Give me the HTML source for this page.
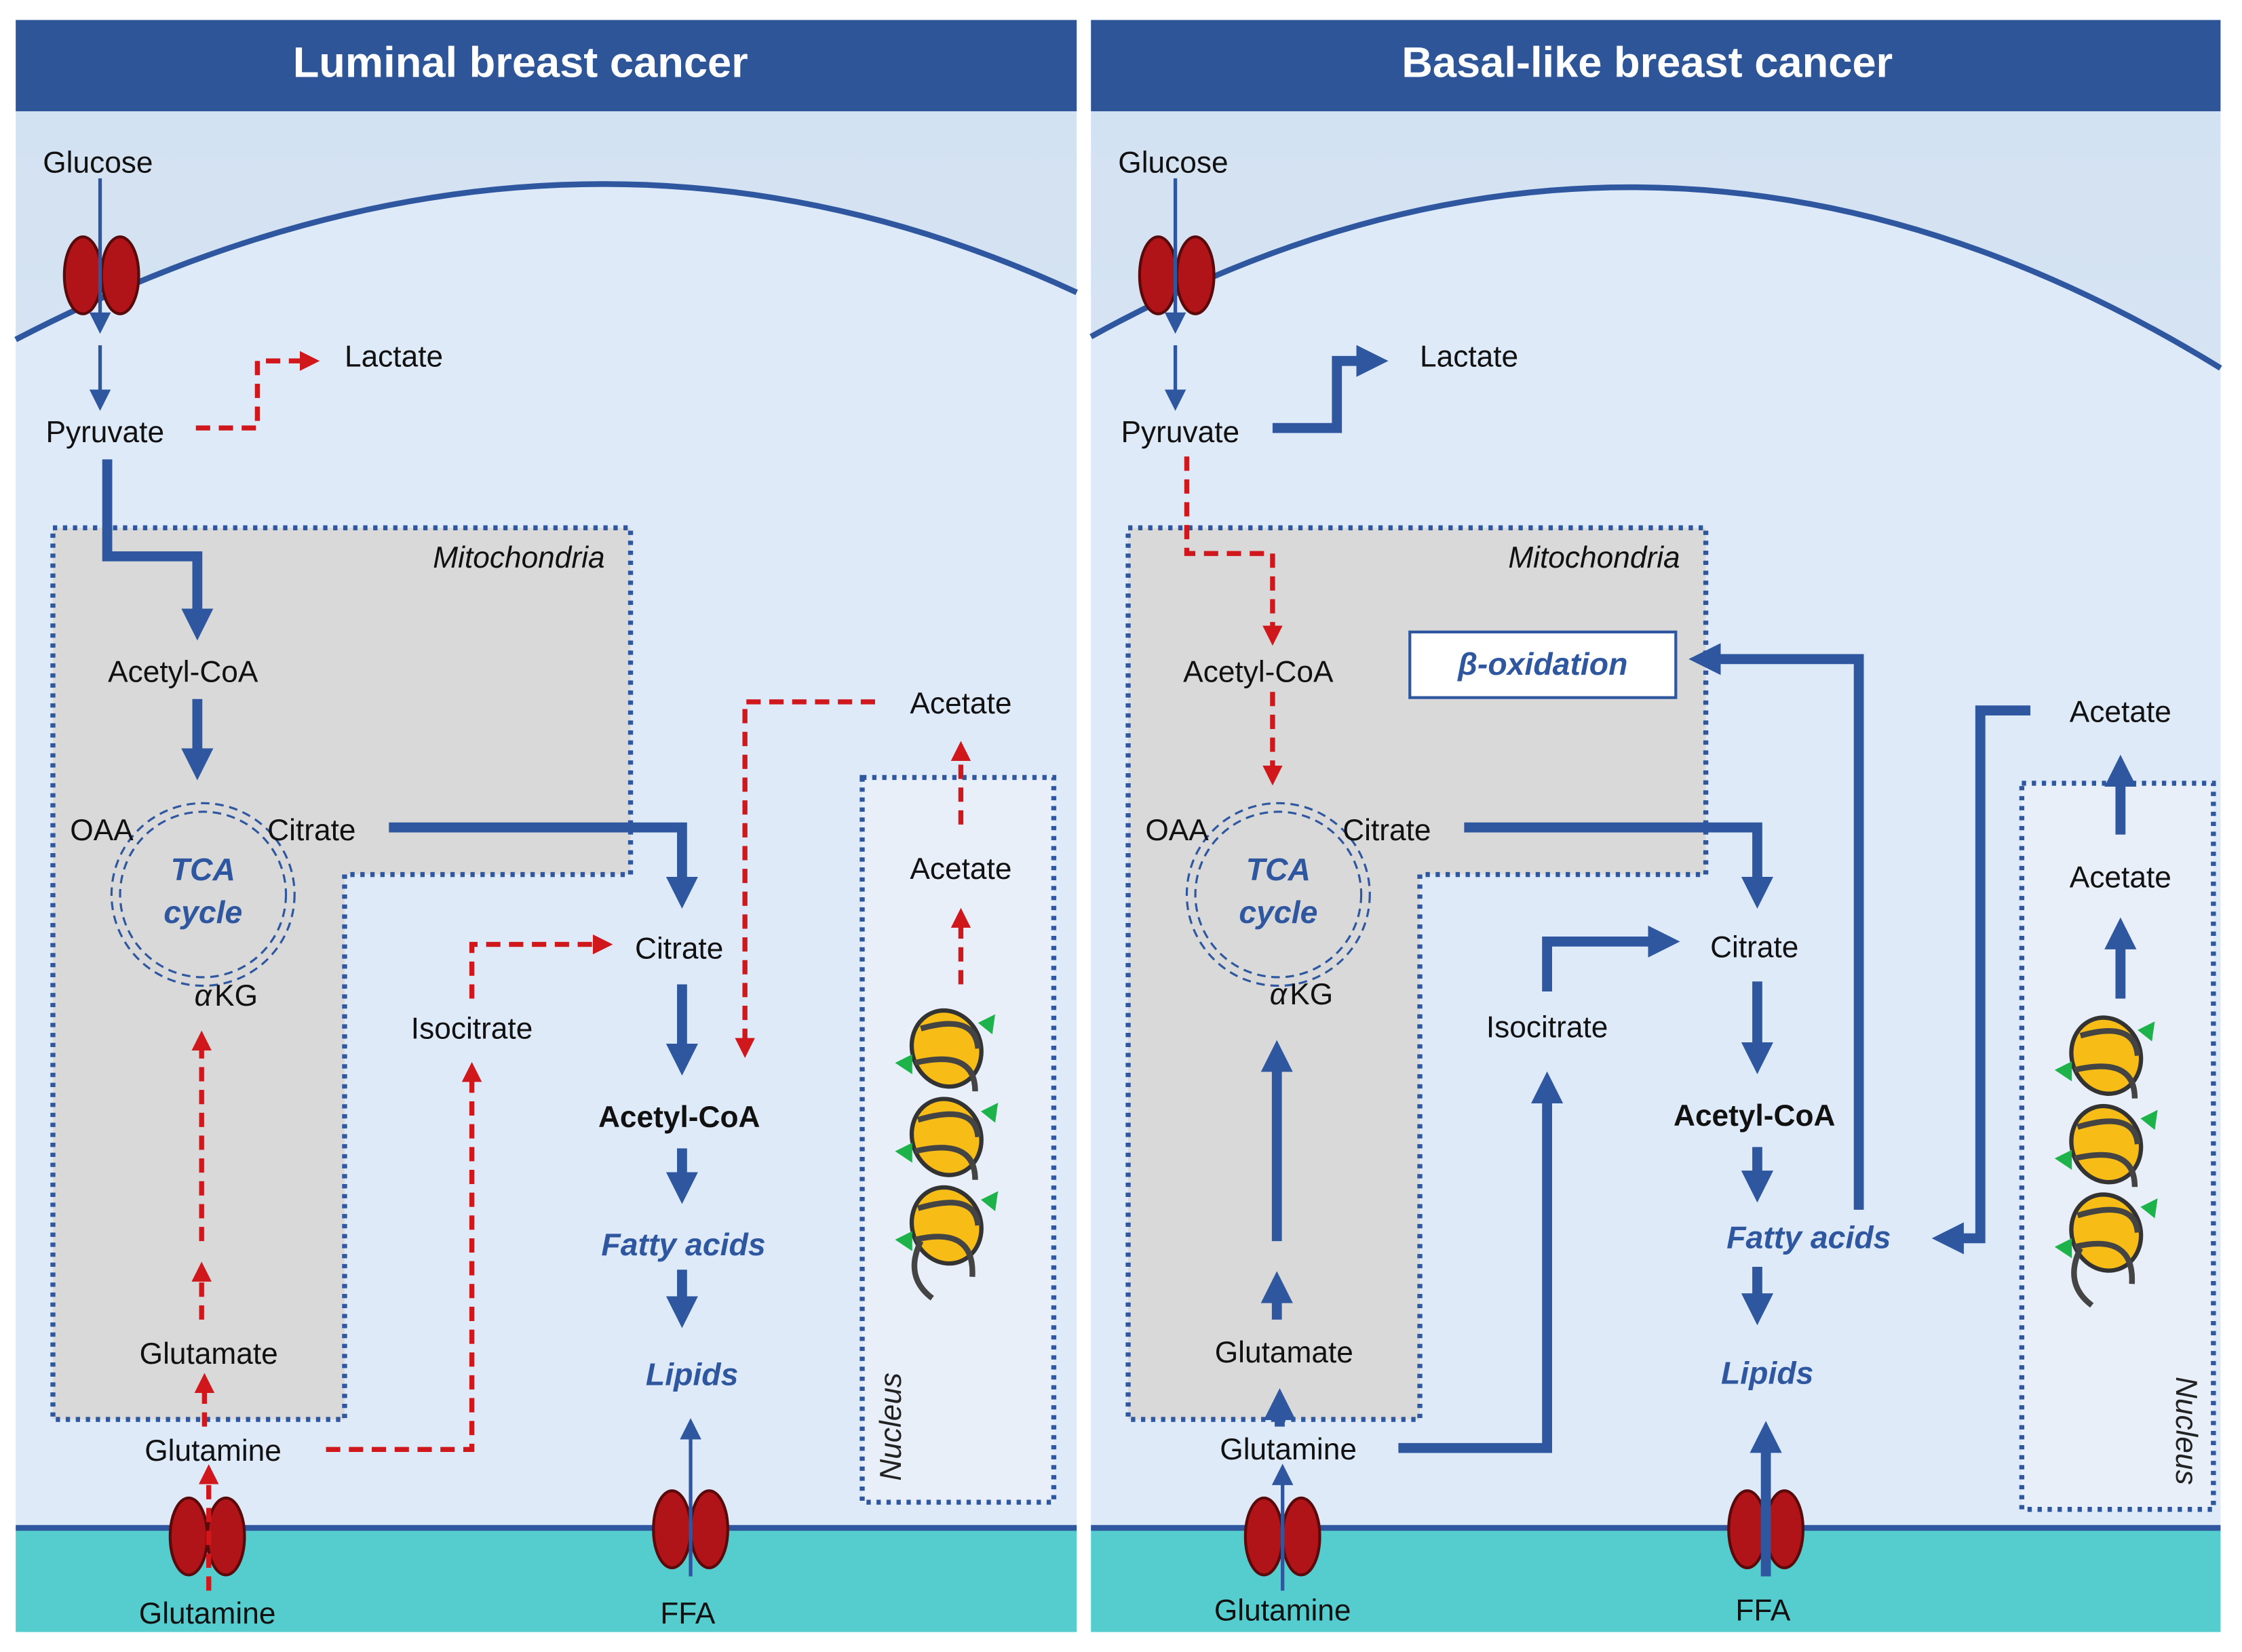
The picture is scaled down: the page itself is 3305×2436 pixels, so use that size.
<!DOCTYPE html>
<html><head><meta charset="utf-8"><style>
html,body{margin:0;padding:0;background:#fff;}
svg{display:block;}
text{font-family:"Liberation Sans",sans-serif;}
</style></head><body>
<svg width="3305" height="2436" viewBox="0 0 1568 1158" preserveAspectRatio="none" xmlns="http://www.w3.org/2000/svg">
<defs>
<marker id="bh" viewBox="0 0 10 10" refX="6" refY="5" markerWidth="3.2" markerHeight="3.2" orient="auto" markerUnits="strokeWidth"><path d="M0,0 L10,5 L0,10 z" fill="#2e57a0"/></marker>
<marker id="bt" viewBox="0 0 10 10" refX="6" refY="5" markerWidth="6" markerHeight="6" orient="auto" markerUnits="strokeWidth"><path d="M0,0 L10,5 L0,10 z" fill="#2e57a0"/></marker>
<marker id="rh" viewBox="0 0 10 10" refX="6" refY="5" markerWidth="4" markerHeight="4" orient="auto" markerUnits="strokeWidth"><path d="M0,0 L10,5 L0,10 z" fill="#d0181c"/></marker>
<linearGradient id="bg" x1="0" y1="0" x2="0" y2="1"><stop offset="0" stop-color="#d2e1f1"/><stop offset="1" stop-color="#e2ecf8"/></linearGradient>
<g id="nuc">
 <g stroke="#333" stroke-width="3" fill="#f7bd16">
  <ellipse cx="0" cy="0" rx="24" ry="27" transform="rotate(-20)"/>
  <ellipse cx="0" cy="62" rx="24" ry="27" transform="rotate(-20 0 62)"/>
  <ellipse cx="0" cy="124" rx="24" ry="27" transform="rotate(-20 0 124)"/>
 </g>
 <path d="M-18,-14 Q20,-25 22,0 M-22,10 Q20,0 20,30 M-20,50 Q20,38 22,62 M-22,72 Q20,62 20,92 M-20,112 Q20,100 22,124 M-22,134 Q20,124 18,160 M-18,135 Q-30,160 -10,175" stroke="#444" stroke-width="4" fill="none"/>
 <g fill="#1db34a"><path d="M22,-18 l12,-6 l-2,14z"/><path d="M-36,10 l12,-6 l0,14z"/><path d="M24,44 l12,-6 l-2,14z"/><path d="M-36,72 l12,-6 l0,14z"/><path d="M24,106 l12,-6 l-2,14z"/><path d="M-36,134 l12,-6 l0,14z"/></g>
</g>
<g id="trans"><ellipse cx="-13" cy="0" rx="13" ry="27" fill="#b01418" stroke="#5a0a0a" stroke-width="2"/><ellipse cx="13" cy="0" rx="13" ry="27" fill="#b01418" stroke="#5a0a0a" stroke-width="2"/></g>
<g id="mito">
 <path d="M26,356 H430 V599 H230 V981 H26 Z" fill="#d9d9d9" stroke="#2e57a0" stroke-width="3.5" stroke-dasharray="3,4"/>
 <circle cx="131" cy="613" r="64" fill="none" stroke="#2e57a0" stroke-width="1.5" stroke-dasharray="6,4"/>
 <circle cx="131" cy="613" r="58" fill="none" stroke="#2e57a0" stroke-width="1.5" stroke-dasharray="6,4"/>
</g>
</defs>

<rect width="1568" height="1158" fill="#fff"/>
<rect x="11" y="14" width="742" height="1130" fill="url(#bg)"/>
<path d="M11,238 Q395,38 753,205 L753,1070 L11,1070 Z" fill="#deeaf8"/>
<path d="M11,238 Q395,38 753,205" stroke="#2e57a0" stroke-width="4" fill="none"/>
<rect x="11" y="1070" width="742" height="74" fill="#55cdcf"/>
<line x1="11" y1="1071" x2="753" y2="1071" stroke="#2e57a0" stroke-width="4"/>
<rect x="11" y="14" width="742" height="64" fill="#2e5597"/>
<rect x="763" y="14" width="790" height="1130" fill="url(#bg)"/>
<path d="M763,236 Q1160,16 1553,258 L1553,1070 L763,1070 Z" fill="#deeaf8"/>
<path d="M763,236 Q1160,16 1553,258" stroke="#2e57a0" stroke-width="4" fill="none"/>
<rect x="763" y="1070" width="790" height="74" fill="#55cdcf"/>
<line x1="763" y1="1071" x2="1553" y2="1071" stroke="#2e57a0" stroke-width="4"/>
<rect x="763" y="14" width="790" height="64" fill="#2e5597"/>

<use href="#mito" x="11" y="14"/>
<use href="#mito" x="763" y="14"/>

<text x="364" y="54" font-size="30" font-weight="bold" fill="#fff" text-anchor="middle">Luminal breast cancer</text>
<text x="1152" y="54" font-size="30" font-weight="bold" fill="#fff" text-anchor="middle">Basal-like breast cancer</text>

<rect x="603" y="545" width="134" height="508" fill="#e8eff8" stroke="#2e57a0" stroke-width="3.5" stroke-dasharray="3,4"/>
<rect x="1414" y="549" width="134" height="509" fill="#e8eff8" stroke="#2e57a0" stroke-width="3.5" stroke-dasharray="3,4"/>
<use href="#nuc" x="662" y="735"/>
<use href="#nuc" x="1473" y="740"/>
<text transform="translate(630,1038) rotate(-90)" font-size="21" font-style="italic" fill="#222">Nucleus</text>
<text transform="translate(1522,965) rotate(90)" font-size="21" font-style="italic" fill="#222">Nucleus</text>

<use href="#trans" x="71" y="193"/>
<use href="#trans" x="145" y="1077"/>
<use href="#trans" x="483" y="1072"/>
<use href="#trans" x="823" y="193"/>
<use href="#trans" x="897" y="1077"/>
<use href="#trans" x="1235" y="1072"/>

<g fill="none">
<path d="M70,125 V228" stroke="#2e57a0" stroke-width="2.5" marker-end="url(#bt)"/>
<path d="M70,242 V282" stroke="#2e57a0" stroke-width="2.5" marker-end="url(#bt)"/>
<path d="M137,300 H180 V253 H218" stroke="#d0181c" stroke-width="3.5" stroke-dasharray="10,6" marker-end="url(#rh)"/>
<path d="M75,322 V390 H138 V440" stroke="#2e57a0" stroke-width="7" marker-end="url(#bh)"/>
<path d="M138,490 V538" stroke="#2e57a0" stroke-width="7" marker-end="url(#bh)"/>
<path d="M272,580 H477 V628" stroke="#2e57a0" stroke-width="7" marker-end="url(#bh)"/>
<path d="M477,690 V745" stroke="#2e57a0" stroke-width="7" marker-end="url(#bh)"/>
<path d="M477,805 V835" stroke="#2e57a0" stroke-width="7" marker-end="url(#bh)"/>
<path d="M477,890 V922" stroke="#2e57a0" stroke-width="7" marker-end="url(#bh)"/>
<path d="M483,1105 V1000" stroke="#2e57a0" stroke-width="2.5" marker-end="url(#bt)"/>
<path d="M330,700 V662 H423" stroke="#d0181c" stroke-width="3.5" stroke-dasharray="10,6" marker-end="url(#rh)"/>
<path d="M228,1016 H330 V750" stroke="#d0181c" stroke-width="3.5" stroke-dasharray="10,6" marker-end="url(#rh)"/>
<path d="M612,492 H521 V736" stroke="#d0181c" stroke-width="3.5" stroke-dasharray="10,6" marker-end="url(#rh)"/>
<path d="M672,578 V525" stroke="#d0181c" stroke-width="3.5" stroke-dasharray="10,6" marker-end="url(#rh)"/>
<path d="M672,690 V642" stroke="#d0181c" stroke-width="3.5" stroke-dasharray="10,6" marker-end="url(#rh)"/>
<path d="M141,870 V728" stroke="#d0181c" stroke-width="3.5" stroke-dasharray="10,6" marker-end="url(#rh)"/>
<path d="M141,925 V890" stroke="#d0181c" stroke-width="3.5" stroke-dasharray="10,6" marker-end="url(#rh)"/>
<path d="M143,1000 V968" stroke="#d0181c" stroke-width="3.5" stroke-dasharray="10,6" marker-end="url(#rh)"/>
<path d="M146,1115 V1032" stroke="#d0181c" stroke-width="3.5" stroke-dasharray="10,6" marker-end="url(#rh)"/>
</g>

<g fill="none">
<path d="M822,125 V228" stroke="#2e57a0" stroke-width="2.5" marker-end="url(#bt)"/>
<path d="M822,242 V282" stroke="#2e57a0" stroke-width="2.5" marker-end="url(#bt)"/>
<path d="M890,300 H935 V253 H962" stroke="#2e57a0" stroke-width="7" marker-end="url(#bh)"/>
<path d="M830,320 V388 H890 V447" stroke="#d0181c" stroke-width="3.5" stroke-dasharray="10,6" marker-end="url(#rh)"/>
<path d="M890,485 V545" stroke="#d0181c" stroke-width="3.5" stroke-dasharray="10,6" marker-end="url(#rh)"/>
<path d="M1024,580 H1229 V628" stroke="#2e57a0" stroke-width="7" marker-end="url(#bh)"/>
<path d="M1229,688 V744" stroke="#2e57a0" stroke-width="7" marker-end="url(#bh)"/>
<path d="M1229,804 V834" stroke="#2e57a0" stroke-width="7" marker-end="url(#bh)"/>
<path d="M1229,888 V920" stroke="#2e57a0" stroke-width="7" marker-end="url(#bh)"/>
<path d="M1235,1105 V1005" stroke="#2e57a0" stroke-width="7" marker-end="url(#bh)"/>
<path d="M1300,848 V462 H1190" stroke="#2e57a0" stroke-width="7" marker-end="url(#bh)"/>
<path d="M1420,498 H1385 V868 H1360" stroke="#2e57a0" stroke-width="7" marker-end="url(#bh)"/>
<path d="M1483,585 V538" stroke="#2e57a0" stroke-width="7" marker-end="url(#bh)"/>
<path d="M1483,700 V652" stroke="#2e57a0" stroke-width="7" marker-end="url(#bh)"/>
<path d="M978,1015 H1082 V760" stroke="#2e57a0" stroke-width="7" marker-end="url(#bh)"/>
<path d="M1082,695 V660 H1166" stroke="#2e57a0" stroke-width="7" marker-end="url(#bh)"/>
<path d="M893,870 V738" stroke="#2e57a0" stroke-width="7" marker-end="url(#bh)"/>
<path d="M893,925 V900" stroke="#2e57a0" stroke-width="7" marker-end="url(#bh)"/>
<path d="M895,1000 V982" stroke="#2e57a0" stroke-width="7" marker-end="url(#bh)"/>
<path d="M897,1115 V1032" stroke="#2e57a0" stroke-width="2.5" marker-end="url(#bt)"/>
</g>
<rect x="986" y="443" width="186" height="46" fill="#fff" stroke="#2e57a0" stroke-width="2"/>
<text x="1079" y="473" font-size="22" font-style="italic" font-weight="bold" fill="#2e57a0" text-anchor="middle">β-oxidation</text>

<g font-size="21" fill="#111">
<text x="30" y="121">Glucose</text>
<text x="241" y="257">Lactate</text>
<text x="32" y="310">Pyruvate</text>
<text x="423" y="398" font-style="italic" text-anchor="end">Mitochondria</text>
<text x="128" y="478" text-anchor="middle">Acetyl-CoA</text>
<text x="49" y="589">OAA</text>
<text x="187" y="589">Citrate</text>
<text x="142" y="705" text-anchor="middle" font-style="italic">α</text><text x="150" y="705">KG</text>
<text x="672" y="500" text-anchor="middle">Acetate</text>
<text x="672" y="616" text-anchor="middle">Acetate</text>
<text x="475" y="672" text-anchor="middle">Citrate</text>
<text x="330" y="728" text-anchor="middle">Isocitrate</text>
<text x="475" y="790" text-anchor="middle" font-weight="bold">Acetyl-CoA</text>
<text x="146" y="956" text-anchor="middle">Glutamate</text>
<text x="149" y="1024" text-anchor="middle">Glutamine</text>
<text x="145" y="1138" text-anchor="middle">Glutamine</text>
<text x="481" y="1138" text-anchor="middle">FFA</text>
</g>
<g font-size="22" font-style="italic" font-weight="bold" fill="#2e57a0" text-anchor="middle">
<text x="142" y="617">TCA</text><text x="142" y="647">cycle</text>
<text x="478" y="880">Fatty acids</text>
<text x="484" y="971">Lipids</text>
<text x="894" y="617">TCA</text><text x="894" y="647">cycle</text>
<text x="1265" y="875">Fatty acids</text>
<text x="1236" y="970">Lipids</text>
</g>
<g font-size="21" fill="#111">
<text x="782" y="121">Glucose</text>
<text x="993" y="257">Lactate</text>
<text x="784" y="310">Pyruvate</text>
<text x="1175" y="398" font-style="italic" text-anchor="end">Mitochondria</text>
<text x="880" y="478" text-anchor="middle">Acetyl-CoA</text>
<text x="801" y="589">OAA</text>
<text x="939" y="589">Citrate</text>
<text x="894" y="704" text-anchor="middle" font-style="italic">α</text><text x="902" y="704">KG</text>
<text x="1483" y="506" text-anchor="middle">Acetate</text>
<text x="1483" y="622" text-anchor="middle">Acetate</text>
<text x="1227" y="671" text-anchor="middle">Citrate</text>
<text x="1082" y="727" text-anchor="middle">Isocitrate</text>
<text x="1227" y="789" text-anchor="middle" font-weight="bold">Acetyl-CoA</text>
<text x="898" y="955" text-anchor="middle">Glutamate</text>
<text x="901" y="1023" text-anchor="middle">Glutamine</text>
<text x="897" y="1136" text-anchor="middle">Glutamine</text>
<text x="1233" y="1136" text-anchor="middle">FFA</text>
</g>
</svg>
</body></html>
